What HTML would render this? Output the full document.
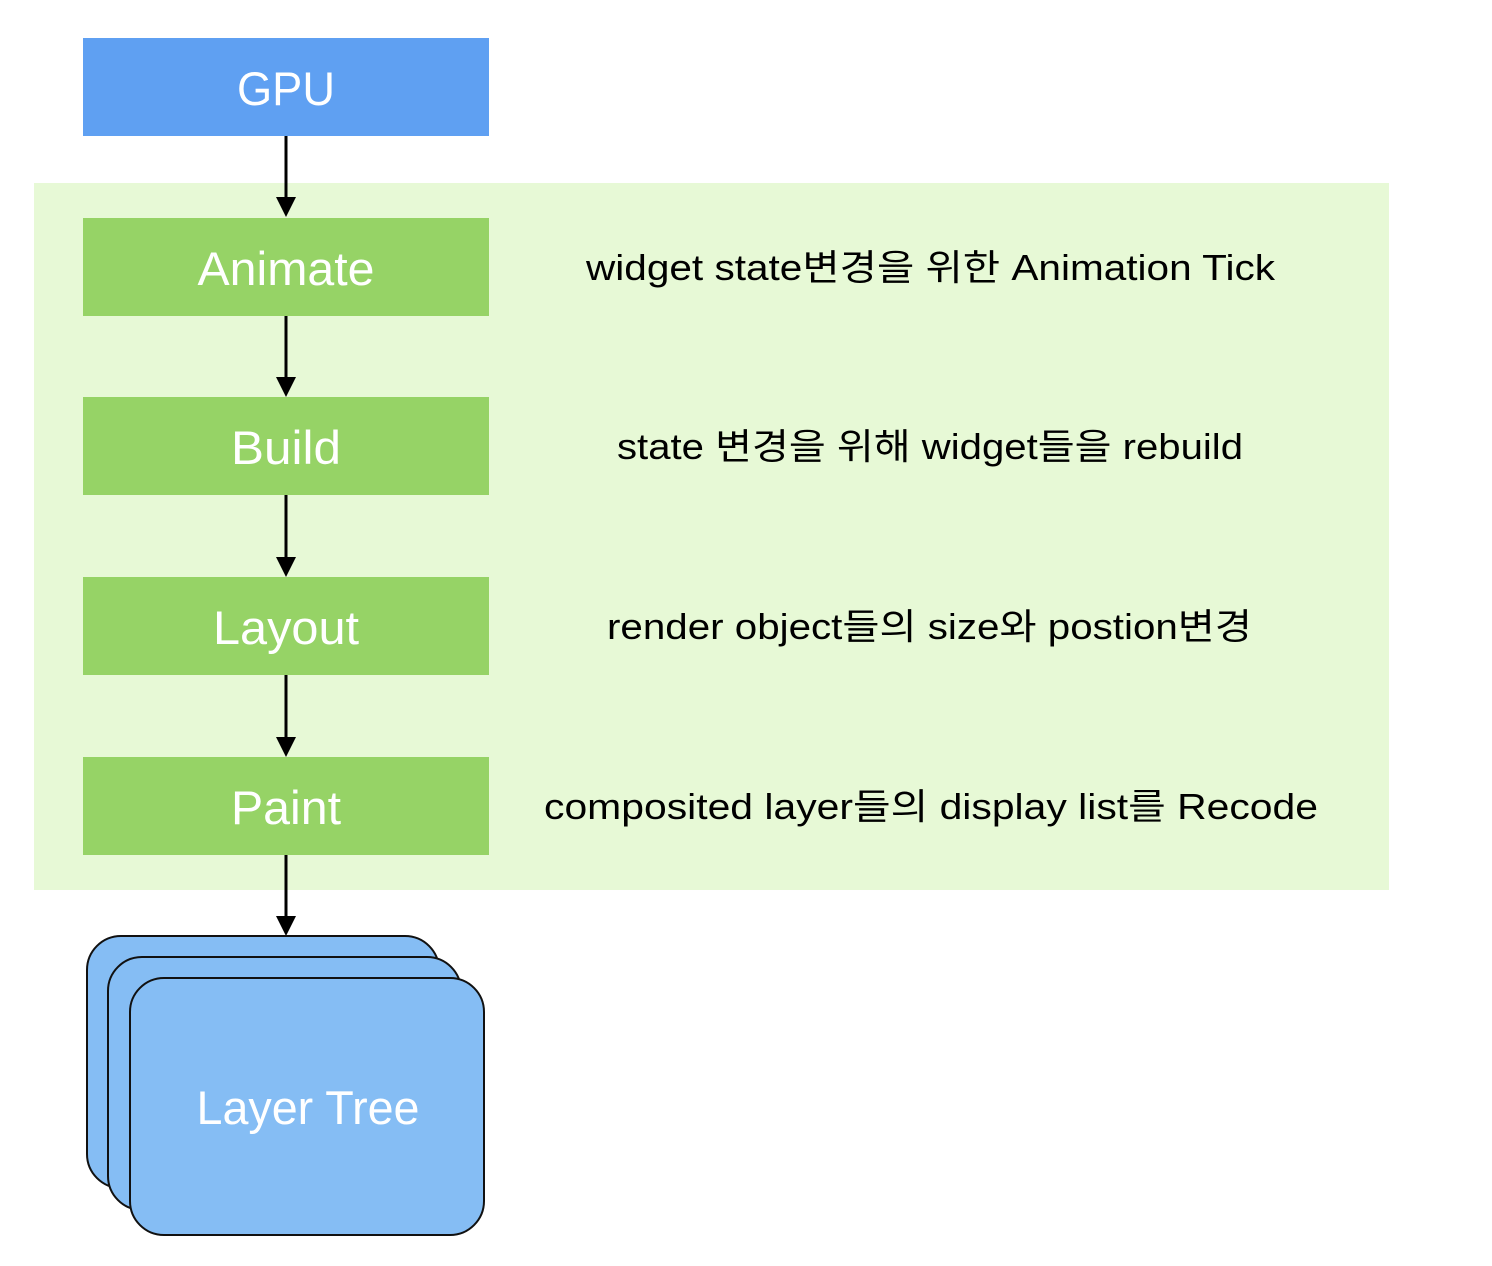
<!DOCTYPE html>
<html><head><meta charset="utf-8"><style>body{margin:0;background:#fff}svg{display:block}</style></head>
<body>
<svg width="1492" height="1266" viewBox="0 0 1492 1266" xmlns="http://www.w3.org/2000/svg" font-family="Liberation Sans, Noto Sans CJK KR, sans-serif">
<rect x="34" y="183" width="1355" height="707" fill="#e7f9d6"/>
<rect x="83" y="38" width="406" height="98" fill="#5fa0f2"/>
<g fill="#96d366">
<rect x="83" y="218" width="406" height="98"/>
<rect x="83" y="397" width="406" height="98"/>
<rect x="83" y="577" width="406" height="98"/>
<rect x="83" y="757" width="406" height="98"/>
</g>
<g stroke="#000" stroke-width="3">
<line x1="286" y1="136" x2="286" y2="200"/>
<line x1="286" y1="316" x2="286" y2="380"/>
<line x1="286" y1="495" x2="286" y2="560"/>
<line x1="286" y1="675" x2="286" y2="740"/>
<line x1="286" y1="855" x2="286" y2="918"/>
</g>
<g fill="#000">
<path d="M276,197 L296,197 L286,217z"/>
<path d="M276,377 L296,377 L286,397z"/>
<path d="M276,557 L296,557 L286,577z"/>
<path d="M276,737 L296,737 L286,757z"/>
<path d="M276,916 L296,916 L286,936z"/>
</g>
<g fill="#85bdf4" stroke="#111" stroke-width="2">
<rect x="87" y="936" width="352" height="252" rx="34"/>
<rect x="108" y="957" width="353" height="253" rx="34"/>
<rect x="130" y="978" width="354" height="257" rx="34"/>
</g>
<g fill="#fff" font-size="47" text-anchor="middle">
<text x="286" y="105" textLength="98" lengthAdjust="spacingAndGlyphs">GPU</text>
<text x="286" y="285" textLength="177" lengthAdjust="spacingAndGlyphs">Animate</text>
<text x="286" y="464" textLength="110" lengthAdjust="spacingAndGlyphs">Build</text>
<text x="286" y="644" textLength="146" lengthAdjust="spacingAndGlyphs">Layout</text>
<text x="286" y="824" textLength="110" lengthAdjust="spacingAndGlyphs">Paint</text>
<text x="308" y="1124" textLength="223" lengthAdjust="spacingAndGlyphs">Layer Tree</text>
</g>
<g fill="#000" font-size="36">
<text x="586" y="280" textLength="689" lengthAdjust="spacingAndGlyphs">widget state변경을 위한 Animation Tick</text>
<text x="617" y="459" textLength="626" lengthAdjust="spacingAndGlyphs">state 변경을 위해 widget들을 rebuild</text>
<text x="607" y="639" textLength="645" lengthAdjust="spacingAndGlyphs">render object들의 size와 postion변경</text>
<text x="544" y="819" textLength="774" lengthAdjust="spacingAndGlyphs">composited layer들의 display list를 Recode</text>
</g>
</svg>
</body></html>
